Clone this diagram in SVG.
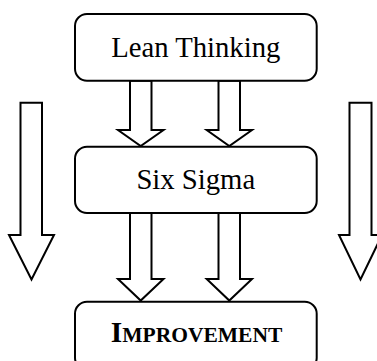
<svg xmlns="http://www.w3.org/2000/svg" width="377" height="361" viewBox="0 0 377 361">
  <style>
    .box { fill: #ffffff; stroke: #000000; stroke-width: 2; }
    .arrow { fill: #ffffff; stroke: #000000; stroke-width: 2; stroke-linejoin: miter; }
    .label { font-family: "Liberation Serif", "Times New Roman", serif; font-size: 28.7px; fill: #000000; text-anchor: middle; }
    .sc { font-weight: bold; }
  </style>
  <rect width="377" height="361" fill="#ffffff"/>

  <!-- hollow block arrows -->
  <g id="connectors">
    <!-- Lean Thinking to Six Sigma -->
    <polygon class="arrow" points="130,80.7 151.5,80.7 151.5,130 163.5,130 140.7,146 118,130 130,130"/>
    <polygon class="arrow" points="218.5,80.7 240,80.7 240,130 252,130 229.3,146 206.7,130 218.5,130"/>
    <!-- Six Sigma to Improvement -->
    <polygon class="arrow" points="130,213 151.5,213 151.5,279 163.5,279 140.7,300.5 118,279 130,279"/>
    <polygon class="arrow" points="218.5,213 240,213 240,279 252,279 229.3,300.5 206.7,279 218.5,279"/>
    <!-- side flow arrows -->
    <polygon class="arrow" points="20.5,102.7 42,102.7 42,235 54,235 31.5,279.5 9,235 20.5,235"/>
    <polygon class="arrow" points="349.5,102.7 371.5,102.7 371.5,235 382,235 360.5,279.5 339,235 349.5,235"/>
  </g>

  <g id="lean-thinking">
    <rect class="box" x="75" y="14" width="241.7" height="66.7" rx="12" ry="12"/>
    <text class="label" x="195.8" y="57.3">Lean Thinking</text>
  </g>

  <g id="six-sigma">
    <rect class="box" x="75" y="146.7" width="241.7" height="66.3" rx="12" ry="12"/>
    <text class="label" x="195.8" y="188.5">Six Sigma</text>
  </g>

  <g id="improvement">
    <rect class="box" x="75" y="301.7" width="241.7" height="68" rx="12" ry="12"/>
    <text class="label sc" x="196.5" y="341.5"><tspan font-size="29.5">I</tspan><tspan font-size="21.5">MPROVEMENT</tspan></text>
  </g>
</svg>
